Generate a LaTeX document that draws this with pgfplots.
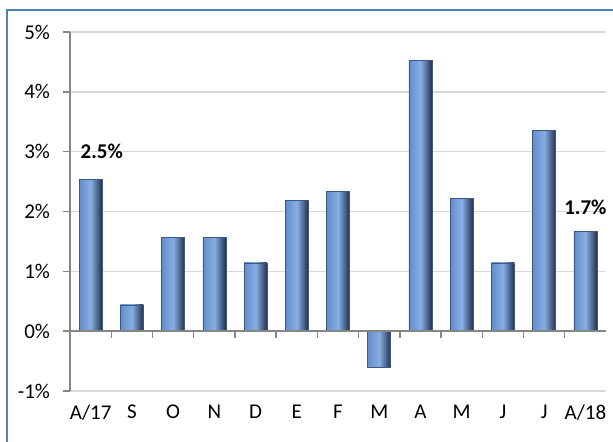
\documentclass[border=0pt]{standalone}
\usepackage{pgfplots}
\pgfplotsset{compat=1.18}
\usepackage{fontspec}
\setmainfont{Carlito}
\definecolor{frameblue}{RGB}{79,129,189}
\definecolor{gridgray}{RGB}{217,217,217}
\definecolor{axgray}{RGB}{134,134,134}
\definecolor{barL}{RGB}{100,140,200}
\definecolor{barM}{RGB}{135,175,228}
\definecolor{barR}{RGB}{32,48,78}
\definecolor{barEdge}{RGB}{60,88,130}
\begin{document}
\begin{tikzpicture}[x=0.5pt,y=0.5pt]
\path[use as bounding box] (0,0) rectangle (613,442);
\draw[frameblue,line width=1pt] (7,-5) -- (7,432) -- (620,432);
\begin{axis}[
  at={(35pt,25.5pt)}, anchor=south west,
  scale only axis, width=268pt, height=179.5pt,
  xmin=-0.5, xmax=12.5, ymin=-1, ymax=5,
  xtick={0,...,12},
  xticklabels={A/17,S,O,N,D,E,F,M,A,M,J,J,A/18},
  ytick={-1,0,...,5},
  yticklabel={\pgfmathprintnumber{\tick}\%},
  /pgf/number format/assume math mode=true,
  ticklabel style={font=\fontsize{10.5}{12}\selectfont},
  yticklabel style={xshift=-3pt},
  xticklabel style={yshift=0pt},
  axis lines*=left,
  axis line style={-},
  x axis line style={draw=none},
  y axis line style={axgray, line width=0.7pt},
  xtick style={draw=none},
  ytick style={axgray, line width=0.7pt},
  tick align=outside, major tick length=3.5pt,
  ymajorgrids, grid style={gridgray, line width=0.7pt},
  clip=false,
  mybar/.style={ybar, bar width=11.5pt, bar shift=0pt, draw=barEdge, line width=0.3pt,
    left color=barL, right color=barR, middle color=barM},
]
\addplot[mybar] coordinates {(0,2.53)};
\addplot[mybar] coordinates {(1,0.44)};
\addplot[mybar] coordinates {(2,1.57)};
\addplot[mybar] coordinates {(3,1.57)};
\addplot[mybar] coordinates {(4,1.14)};
\addplot[mybar] coordinates {(5,2.19)};
\addplot[mybar] coordinates {(6,2.34)};
\addplot[mybar] coordinates {(7,-0.6)};
\addplot[mybar] coordinates {(8,4.52)};
\addplot[mybar] coordinates {(9,2.22)};
\addplot[mybar] coordinates {(10,1.14)};
\addplot[mybar] coordinates {(11,3.35)};
\addplot[mybar] coordinates {(12,1.67)};
\draw[axgray, line width=0.7pt] (axis cs:-0.5,0) -- (axis cs:12.5,0);
\pgfplotsinvokeforeach{0.5,1.5,2.5,3.5,4.5,5.5,6.5,7.5,8.5,9.5,10.5,11.5}{\draw[axgray, line width=0.7pt] (axis cs:#1,0) -- (axis cs:#1,-0.115);}
\node[font=\fontsize{10.5}{12}\selectfont\bfseries, anchor=south] at (axis cs:0.27,2.53) [yshift=7pt] {2.5\%};
\node[font=\fontsize{10.5}{12}\selectfont\bfseries, anchor=south] at (axis cs:12,1.67) [yshift=4.5pt] {1.7\%};
\end{axis}
\end{tikzpicture}
\end{document}
